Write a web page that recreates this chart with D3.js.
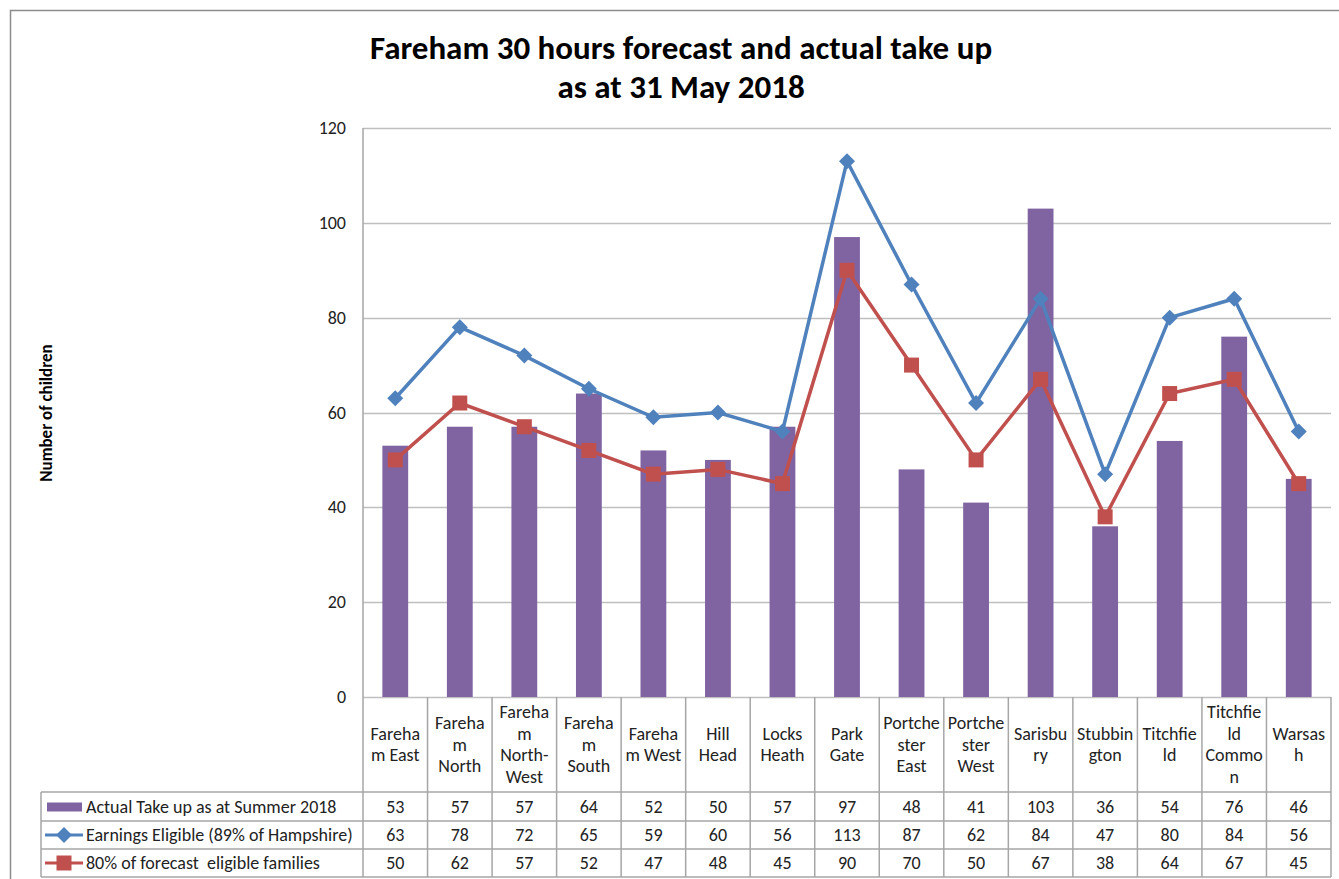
<!DOCTYPE html>
<html>
<head>
<meta charset="utf-8">
<script src="https://cdn.jsdelivr.net/npm/d3@7"></script>
<style>
  body { margin: 0; background: #fff; }
  svg { font-family: Calibri, Carlito, "Open Sans", sans-serif; }
  text { white-space: pre; }
</style>
</head>
<body>
<script>
  // categories (header lines as wrapped in the table)
  var categories = [
    ["Fareha", "m East"], ["Fareha", "m", "North"], ["Fareha", "m", "North-", "West"],
    ["Fareha", "m", "South"], ["Fareha", "m West"], ["Hill", "Head"], ["Locks", "Heath"],
    ["Park", "Gate"], ["Portche", "ster", "East"], ["Portche", "ster", "West"],
    ["Sarisbu", "ry"], ["Stubbin", "gton"], ["Titchfie", "ld"], ["Titchfie", "ld", "Commo", "n"],
    ["Warsas", "h"]
  ];
  var actual   = [53, 57, 57, 64, 52, 50, 57, 97, 48, 41, 103, 36, 54, 76, 46];
  var eligible = [63, 78, 72, 65, 59, 60, 56, 113, 87, 62, 84, 47, 80, 84, 56];
  var forecast = [50, 62, 57, 52, 47, 48, 45, 90, 70, 50, 67, 38, 64, 67, 45];
  var seriesNames = ["Actual Take up as at Summer 2018", "Earnings Eligible (89% of Hampshire)", "80% of forecast  eligible families"];
  var yTicks = [0, 20, 40, 60, 80, 100, 120];

  var W = 1339, H = 879;
  var plot = {left: 363, right: 1331, top: 128, bottom: 697};
  var tbl = {left: 41, rows: [792, 821, 849, 877]};
  var purple = "#8064A2", blue = "#4F81BD", red = "#C0504D", grid = "#BFBFBF";
  var fs = 18;

  var svg = d3.select("body").append("svg")
    .attr("width", W)
    .attr("height", H);

  // outer chart border
  svg.append("rect")
    .attr("x", 10.5).attr("y", 10.5)
    .attr("width", W).attr("height", H)
    .attr("fill", "none").attr("stroke", "#8c8c8c").attr("stroke-width", 1.5);

  var x = d3.scaleBand()
    .domain(d3.range(categories.length))
    .range([plot.left, plot.right]);

  var y = d3.scaleLinear()
    .domain([0, 120])
    .range([plot.bottom, plot.top]);

  // title
  var title = svg.append("text")
    .attr("text-anchor", "middle")
    .attr("font-weight", "bold")
    .attr("font-size", 33);
  title.append("tspan").attr("x", 681).attr("y", 59).text("Fareham 30 hours forecast and actual take up");
  title.append("tspan").attr("x", 681).attr("y", 98).text("as at 31 May 2018");

  // grid + y axis
  svg.append("g").selectAll("line")
    .data(yTicks)
    .enter().append("line")
    .attr("x1", plot.left).attr("x2", plot.right)
    .attr("y1", function(d) { return Math.round(y(d)) + 0.5; })
    .attr("y2", function(d) { return Math.round(y(d)) + 0.5; })
    .attr("stroke", grid).attr("stroke-width", 1.5);

  svg.append("g").selectAll("text")
    .data(yTicks)
    .enter().append("text")
    .attr("x", 346)
    .attr("y", function(d) { return y(d) + 6; })
    .attr("text-anchor", "end")
    .attr("font-size", fs)
    .attr("fill", "#222")
    .text(function(d) { return d; });

  svg.append("text")
    .attr("transform", "translate(52,413) rotate(-90)")
    .attr("text-anchor", "middle")
    .attr("font-weight", "bold")
    .attr("font-size", 17)
    .text("Number of children");

  // bars
  var barW = x.bandwidth() * 0.4;
  svg.append("g").selectAll("rect")
    .data(actual)
    .enter().append("rect")
    .attr("x", function(d, i) { return x(i) + x.bandwidth() / 2 - barW / 2; })
    .attr("y", function(d) { return y(d); })
    .attr("width", barW)
    .attr("height", function(d) { return y(0) - y(d); })
    .attr("fill", purple);

  var line = d3.line()
    .x(function(d, i) { return x(i) + x.bandwidth() / 2; })
    .y(function(d) { return y(d); });

  function drawSeries(vals, color, marker) {
    svg.append("path")
      .datum(vals)
      .attr("d", line)
      .attr("fill", "none")
      .attr("stroke", color)
      .attr("stroke-width", 3.5);
    svg.append("g").selectAll("path")
      .data(vals)
      .enter().append("path")
      .attr("transform", function(d, i) { return "translate(" + (x(i) + x.bandwidth() / 2) + "," + y(d) + ")"; })
      .attr("d", marker)
      .attr("fill", color);
  }
  var diamond = "M0,-8L8,0L0,8L-8,0Z";
  var square = "M-7.5,-7.5H7.5V7.5H-7.5Z";
  drawSeries(eligible, blue, diamond);
  drawSeries(forecast, red, square);

  // data table
  var tg = svg.append("g").attr("stroke", "#A6A6A6").attr("stroke-width", 1.5);
  tg.selectAll(".vcol")
    .data(d3.range(categories.length + 1))
    .enter().append("line")
    .attr("x1", function(i) { return i < categories.length ? x(i) : plot.right; })
    .attr("x2", function(i) { return i < categories.length ? x(i) : plot.right; })
    .attr("y1", function(i) { return i === 0 ? plot.top : plot.bottom; })
    .attr("y2", tbl.rows[3]);
  tg.append("line")
    .attr("x1", tbl.left).attr("x2", tbl.left)
    .attr("y1", tbl.rows[0]).attr("y2", tbl.rows[3]);
  tg.selectAll(".hrow")
    .data(tbl.rows)
    .enter().append("line")
    .attr("x1", tbl.left).attr("x2", plot.right)
    .attr("y1", function(d) { return d; }).attr("y2", function(d) { return d; });

  // category header text
  var hdrMid = (plot.bottom + tbl.rows[0]) / 2;
  var lh = 21.7;
  categories.forEach(function(lines, i) {
    var t = svg.append("text")
      .attr("text-anchor", "middle")
      .attr("font-size", fs)
      .attr("fill", "#222");
    lines.forEach(function(s, k) {
      t.append("tspan")
        .attr("x", x(i) + x.bandwidth() / 2)
        .attr("y", hdrMid + (k - (lines.length - 1) / 2) * lh + 6)
        .text(s);
    });
  });

  // table rows
  var rows = [actual, eligible, forecast];
  rows.forEach(function(vals, r) {
    var cy = (tbl.rows[r] + tbl.rows[r + 1]) / 2;
    svg.append("g").selectAll("text")
      .data(vals)
      .enter().append("text")
      .attr("x", function(d, i) { return x(i) + x.bandwidth() / 2; })
      .attr("y", cy + 6)
      .attr("text-anchor", "middle")
      .attr("font-size", fs)
      .attr("fill", "#222")
      .text(function(d) { return d; });
    svg.append("text")
      .attr("x", 86).attr("y", cy + 6)
      .attr("font-size", fs)
      .attr("fill", "#222")
      .text(seriesNames[r]);
  });

  // legend keys
  var k0 = (tbl.rows[0] + tbl.rows[1]) / 2;
  svg.append("rect").attr("x", 47).attr("y", k0 - 4).attr("width", 35).attr("height", 9).attr("fill", purple);
  [[eligible, blue, diamond], [forecast, red, square]].forEach(function(s, r) {
    var cy = (tbl.rows[r + 1] + tbl.rows[r + 2]) / 2;
    svg.append("line").attr("x1", 45).attr("x2", 83).attr("y1", cy).attr("y2", cy)
      .attr("stroke", s[1]).attr("stroke-width", 3);
    svg.append("path").attr("transform", "translate(64," + cy + ")").attr("d", s[2]).attr("fill", s[1]);
  });
</script>
</body>
</html>
